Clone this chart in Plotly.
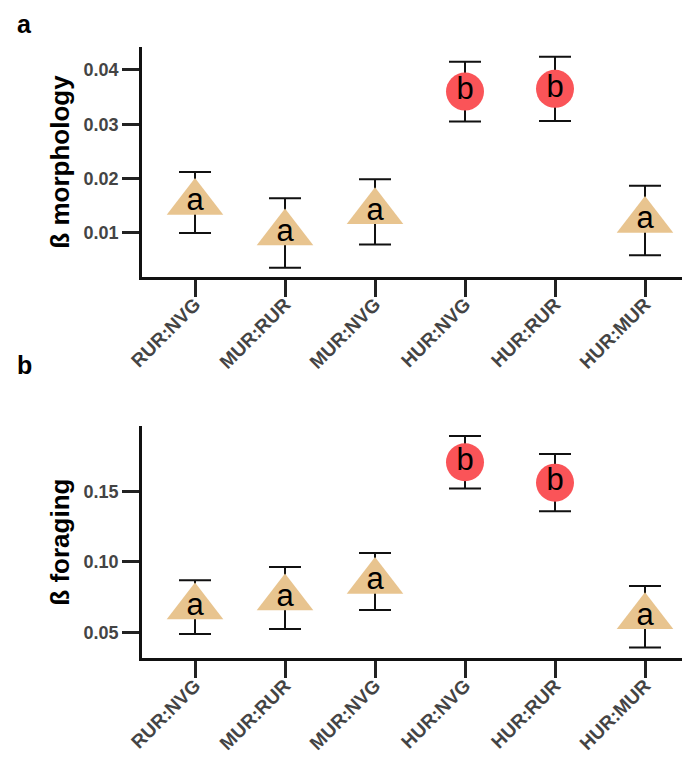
import plotly.graph_objects as go

categories = ["RUR:NVG", "MUR:RUR", "MUR:NVG", "HUR:NVG", "HUR:RUR", "HUR:MUR"]
groups = ["a", "a", "a", "b", "b", "a"]

morph_mean = [0.0156, 0.0100, 0.0139, 0.0360, 0.0365, 0.0123]
morph_err = [0.0056, 0.0064, 0.0060, 0.0055, 0.0059, 0.0064]

forag_mean = [0.0679, 0.0744, 0.0861, 0.1709, 0.1564, 0.0610]
forag_err = [0.0191, 0.0220, 0.0203, 0.0187, 0.0204, 0.0219]

morph_ticks = [0.01, 0.02, 0.03, 0.04]
forag_ticks = [0.05, 0.10, 0.15]

TAN = "#E8C48F"
RED = "#FA5458"
FONT = "Liberation Sans, Arial, sans-serif"

# page has an 8px body margin: figure is laid out in its own coordinates
W, H = 682, 752
L = 134
PW = W - L

fig = go.Figure()

def add_panel(means, errs, xa, ya):
    for grp, sym, col, size in [("a", "triangle-up", TAN, 49), ("b", "circle", RED, 38)]:
        idx = [i for i, g in enumerate(groups) if g == grp]
        fig.add_trace(go.Scatter(
            x=[categories[i] for i in idx],
            y=[means[i] for i in idx],
            error_y=dict(type="data", array=[errs[i] for i in idx], visible=True,
                         color="#111111", thickness=2, width=16),
            mode="markers+text",
            text=[groups[i] for i in idx],
            textposition="middle center",
            textfont=dict(family=FONT, size=31, color="black"),
            marker=dict(symbol=sym, size=size, color=col, line=dict(width=0)),
            xaxis=xa, yaxis=ya, showlegend=False, cliponaxis=False,
        ))

add_panel(morph_mean, morph_err, "x", "y")
add_panel(forag_mean, forag_err, "x2", "y2")

axis_common = dict(showline=True, linewidth=2.5, linecolor="#111111",
                   ticks="outside", tickwidth=2.5, tickcolor="#222222",
                   showgrid=False, zeroline=False,
                   tickfont=dict(family=FONT, size=18, color="#444444", weight="bold"))

xcommon = dict(axis_common, ticklen=17, tickangle=-45, range=[-0.589, 5.5],
               tickfont=dict(family=FONT, size=19, color="#444444", weight="bold"),
               ticklabelstandoff=-11,
               categoryorder="array", categoryarray=categories)

title_font = dict(family=FONT, size=26, color="black", weight="bold")
label_font = dict(family=FONT, size=25, color="black", weight="bold")

fig.update_layout(
    width=W, height=H,
    margin=dict(l=L, r=0, t=0, b=0, autoexpand=False),
    paper_bgcolor="white", plot_bgcolor="white",
    xaxis=dict(xcommon, domain=[0, 1], anchor="y"),
    xaxis2=dict(xcommon, domain=[0, 1], anchor="y2"),
    yaxis=dict(axis_common, ticklen=17, domain=[1 - 269 / H, 1 - 39 / H],
               range=[0.0019, 0.0442], tickvals=morph_ticks, tickformat=".2f",
               title=dict(text="ß morphology", standoff=7, font=title_font)),
    yaxis2=dict(axis_common, ticklen=17, domain=[1 - 650.3 / H, 1 - 418 / H],
                range=[0.0315, 0.1967], tickvals=forag_ticks, tickformat=".2f",
                title=dict(text="ß foraging", standoff=7, font=title_font)),
    annotations=[
        dict(text="a", x=(7 - L) / PW, y=1, xref="paper", yref="paper",
             xanchor="left", yanchor="top", showarrow=False, font=label_font),
        dict(text="b", x=(7 - L) / PW, y=1 - 357 / H, xref="paper", yref="paper",
             xanchor="left", yanchor="middle", showarrow=False, font=label_font),
    ],
)

fig.write_html("out.html")
